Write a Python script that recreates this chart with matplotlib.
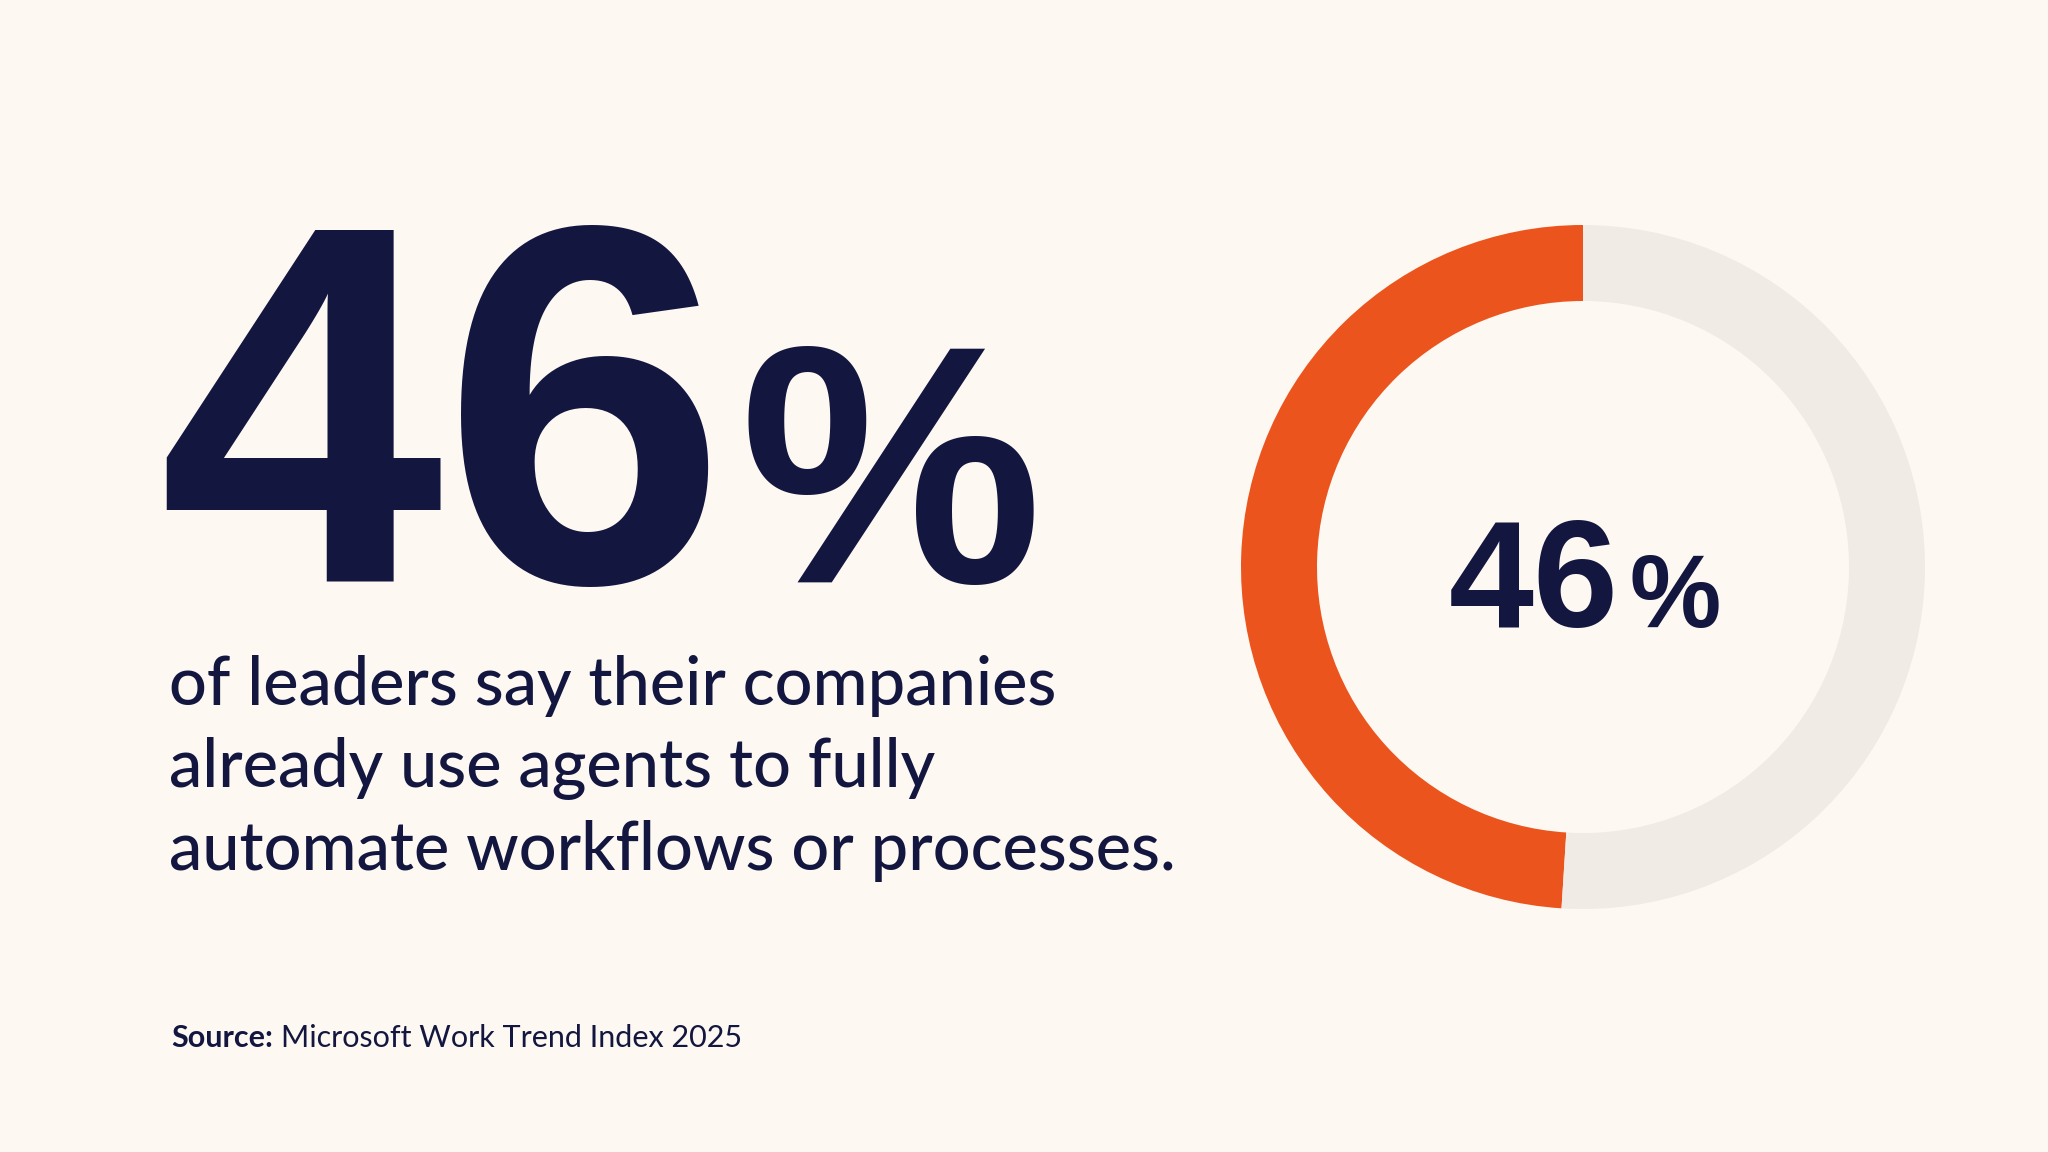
import matplotlib
matplotlib.use("Agg")
import matplotlib.pyplot as plt

# ---- data ----
headline_value = "46"
headline_unit = "%"
ring_labels = ["Use agents to fully automate", "Other"]
ring_values = [49, 51]          # share of ring as drawn in the picture
ring_colors = ["#EC541E", "#F0EBE5"]
body_lines = [
    "of leaders say their companies",
    "already use agents to fully",
    "automate workflows or processes.",
]
source_label = "Source:"
source_text = "Microsoft Work Trend Index 2025"

BG = "#FDF8F2"
NAVY = "#13173F"

W, H = 2048, 1152
fig = plt.figure(figsize=(W / 100, H / 100), dpi=100, facecolor=BG)
ax = fig.add_axes([0, 0, 1, 1])
ax.set_xlim(0, W)
ax.set_ylim(0, H)
ax.set_aspect("equal")
ax.axis("off")
ax.set_facecolor(BG)

def Y(y):
    return H - y

# ---- big headline number ----
ax.text(158, Y(582), headline_value, fontsize=368, fontweight="bold",
        family="Liberation Sans", color=NAVY, ha="left", va="baseline")
ax.text(740, Y(582), headline_unit, fontsize=245, fontweight="bold",
        family="Liberation Sans", color=NAVY, ha="left", va="baseline")

# ---- body text ----
baselines = [705, 787, 870]
for line, yb in zip(body_lines, baselines):
    ax.text(169, Y(yb), line, fontsize=48, family="Lato", fontweight="medium",
            color=NAVY, ha="left", va="baseline")

# ---- source ----
fig.canvas.draw()
r = fig.canvas.get_renderer()
s1 = ax.text(171, Y(1047), source_label, fontsize=22, family="Lato",
             fontweight="bold", color=NAVY, ha="left", va="baseline")
bb = s1.get_window_extent(renderer=r)
ax.text(bb.x1 + 8, Y(1047), source_text, fontsize=22, family="Lato",
        fontweight="normal", color=NAVY, ha="left", va="baseline")

# ---- donut ----
cx, cy, R, Rin = 1583, 567, 342, 266
ax.pie(ring_values, colors=ring_colors, radius=R, center=(cx, Y(cy)),
       startangle=90, counterclock=True,
       wedgeprops=dict(width=R - Rin, linewidth=0, edgecolor="none"))
ax.set_xlim(0, W)
ax.set_ylim(0, H)

ax.text(1449, Y(627), headline_value, fontsize=110, fontweight="bold",
        family="Liberation Sans", color=NAVY, ha="left", va="baseline")
ax.text(1629, Y(627), headline_unit, fontsize=74, fontweight="bold",
        family="Liberation Sans", color=NAVY, ha="left", va="baseline")

fig.savefig("out.png", dpi=100, facecolor=BG)
